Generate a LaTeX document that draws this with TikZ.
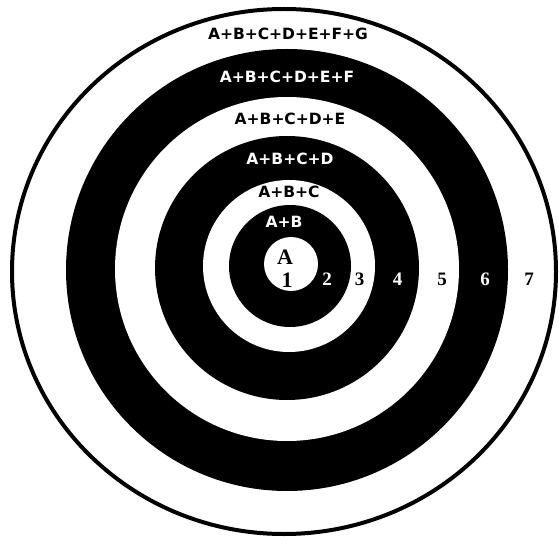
\documentclass[tikz,border=0pt]{standalone}
\usepackage{fontspec}
\newfontfamily\lblfont{DejaVu Sans}
\newfontfamily\numfont{Liberation Serif}
\begin{document}
\begin{tikzpicture}[x=1pt,y=-1pt,
  blackring/.style={fill=black,draw=none},
  whitering/.style={fill=white,draw=none},
  sumlbl/.style={font=\lblfont\bfseries\fontsize{15.5}{16}\selectfont,anchor=base,inner sep=0pt},
  numlbl/.style={font=\numfont\bfseries\fontsize{19}{19}\selectfont,anchor=base,inner sep=0pt},
  biglbl/.style={font=\numfont\bfseries\fontsize{22}{22}\selectfont,anchor=base,inner sep=0pt}]
\useasboundingbox (0,0) rectangle (559,537);
\fill[white] (0,0) rectangle (559,537);
% rings
\draw[fill=white,line width=4pt] (284,271.5) ellipse [x radius=272, y radius=262.5];
\path[blackring] (287,270) circle [radius=221];
\path[whitering] (287,269) circle [radius=172];
\path[blackring] (287,268) circle [radius=132];
\path[whitering] (289,266) circle [radius=86];
\path[blackring] (290,266) circle [radius=61];
\path[whitering] (291,264) circle [radius=27];
% sum labels
\node[sumlbl,text=black] (s7) at (288,40) {A+B+C+D+E+F+G};
\node[sumlbl,text=white] (s6) at (287,83) {A+B+C+D+E+F};
\node[sumlbl,text=black] (s5) at (290,125) {A+B+C+D+E};
\node[sumlbl,text=white] (s4) at (290,165) {A+B+C+D};
\node[sumlbl,text=black] (s3) at (289,198) {A+B+C};
\node[sumlbl,text=white] (s2) at (284,228) {A+B};
\node[biglbl,text=black] (s1) at (285,264) {A};
% ring numbers
\node[biglbl,text=black] (n1) at (287,287) {1};
\node[numlbl,text=white] (n2) at (327,285) {2};
\node[numlbl,text=black] (n3) at (359.5,285) {3};
\node[numlbl,text=white] (n4) at (397.5,285) {4};
\node[numlbl,text=black] (n5) at (442,285) {5};
\node[numlbl,text=white] (n6) at (485,285) {6};
\node[numlbl,text=black] (n7) at (529,285) {7};
\end{tikzpicture}
\end{document}
